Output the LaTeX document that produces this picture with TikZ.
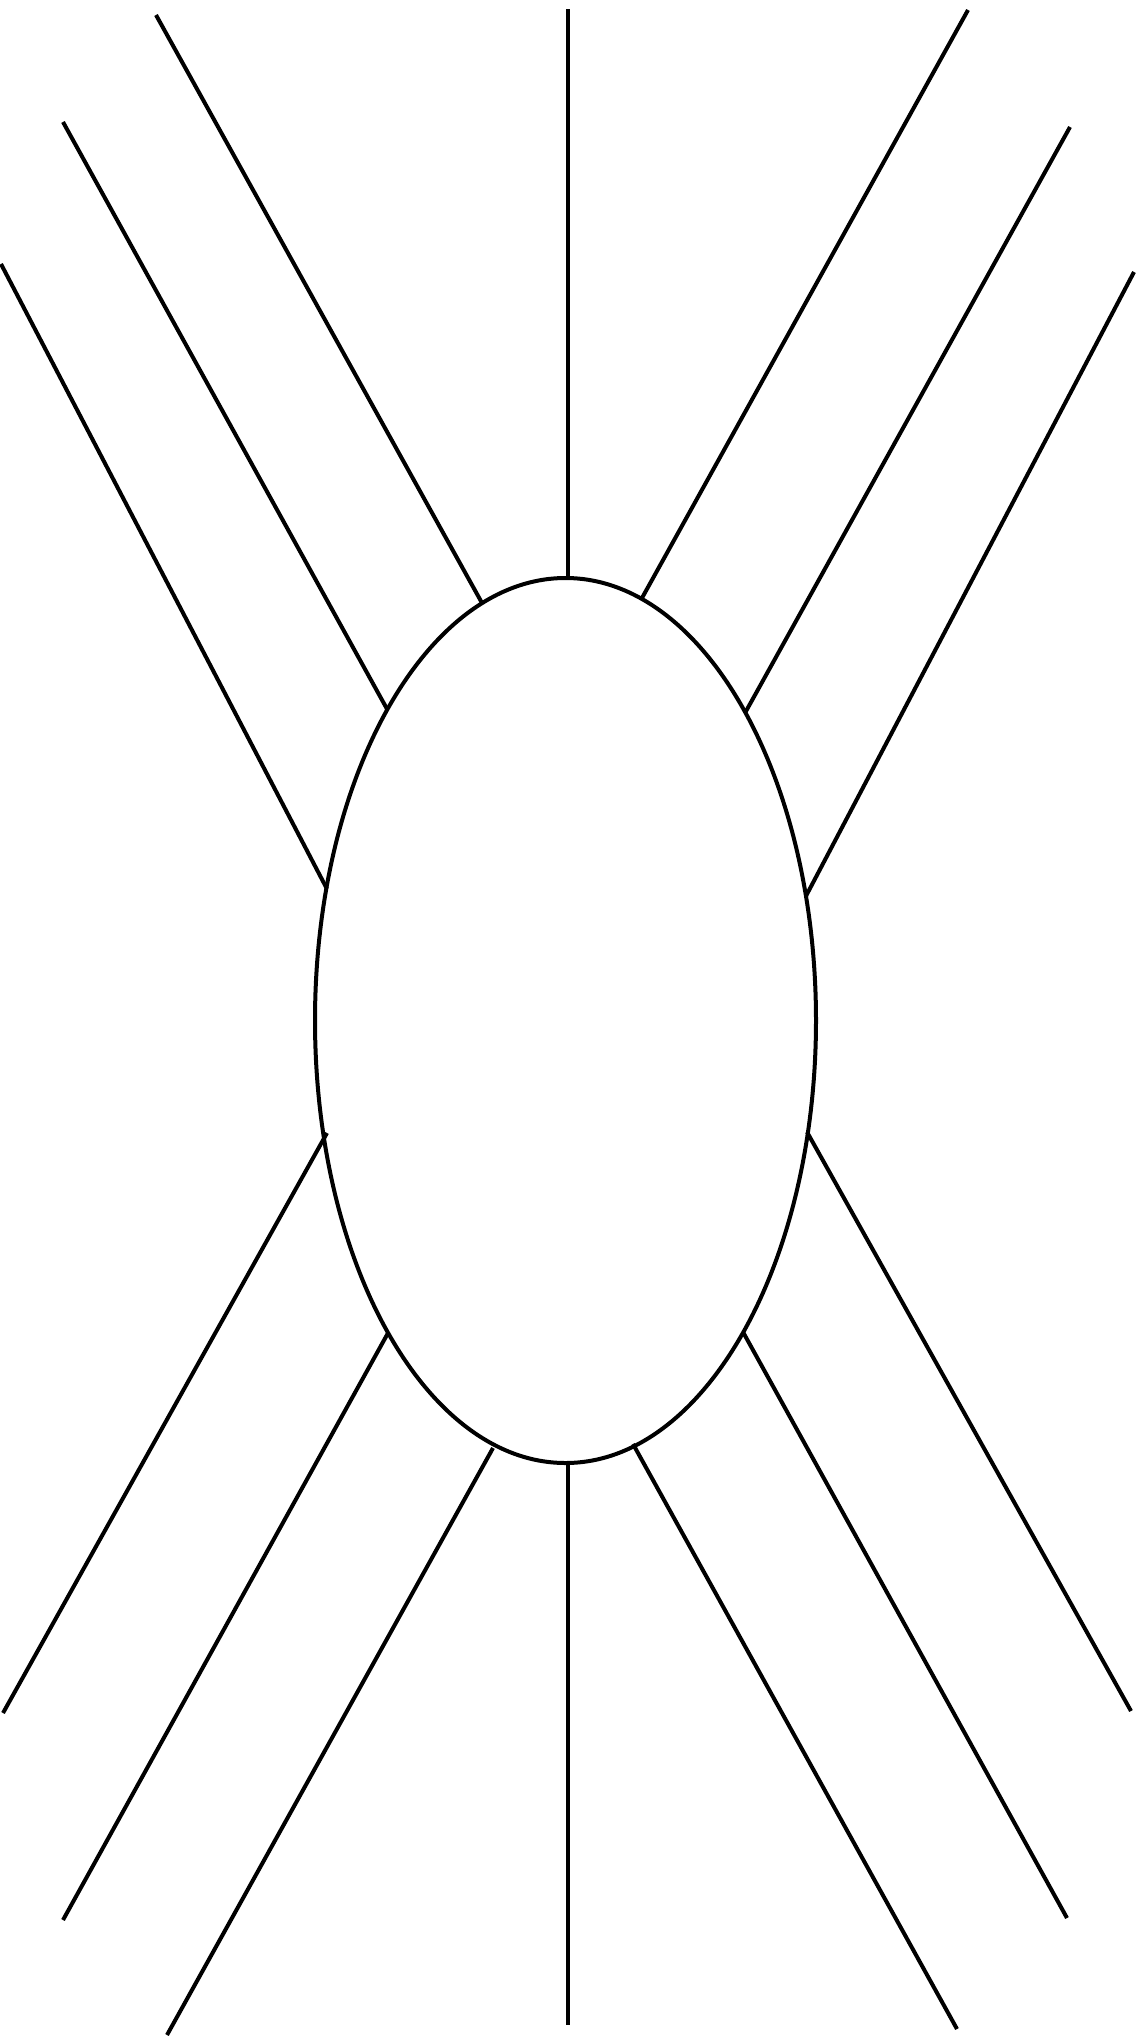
\documentclass[tikz,border=0pt]{standalone}
\usetikzlibrary{shapes.geometric}
\begin{document}
\begin{tikzpicture}[x=1pt,y=-1pt,
  leg/.style={draw=black,line width=4pt},
  blob/.style={draw=black,line width=4pt,ellipse,inner sep=0pt,minimum width=501pt,minimum height=885pt}]
\fill[white] (0,0) rectangle (1141,2041);
\useasboundingbox (0,0) rectangle (1141,2041);
\node[blob] (E) at (565.5,1020.5) {};
% outer ends
\coordinate (t0) at (568,9);
\coordinate (tl1) at (156,15);
\coordinate (tl2) at (63,122);
\coordinate (tl3) at (1,264);
\coordinate (tr1) at (968,10);
\coordinate (tr2) at (1070,127);
\coordinate (tr3) at (1134,272);
\coordinate (bl1) at (3,1713);
\coordinate (bl2) at (63,1920);
\coordinate (bl3) at (167,2035);
\coordinate (b0) at (568,2025);
\coordinate (br3) at (957,2029);
\coordinate (br2) at (1067,1918);
\coordinate (br1) at (1131,1711);
% junctions on the ellipse
\coordinate (jt0) at (568,578);
\coordinate (jtl1) at (482,603);
\coordinate (jtl2) at (387,709);
\coordinate (jtl3) at (327,889);
\coordinate (jtr1) at (642,598);
\coordinate (jtr2) at (745,713);
\coordinate (jtr3) at (806,896);
\coordinate (jbl1) at (327,1133);
\coordinate (jbl2) at (388,1333);
\coordinate (jbl3) at (493,1448);
\coordinate (jb0) at (568,1463);
\coordinate (jbr3) at (633,1444);
\coordinate (jbr2) at (743,1332);
\coordinate (jbr1) at (807,1132);
\foreach \p in {t0,tl1,tl2,tl3,tr1,tr2,tr3,bl1,bl2,bl3,b0,br3,br2,br1}
  \draw[leg] (j\p) -- (\p);
\end{tikzpicture}
\end{document}
